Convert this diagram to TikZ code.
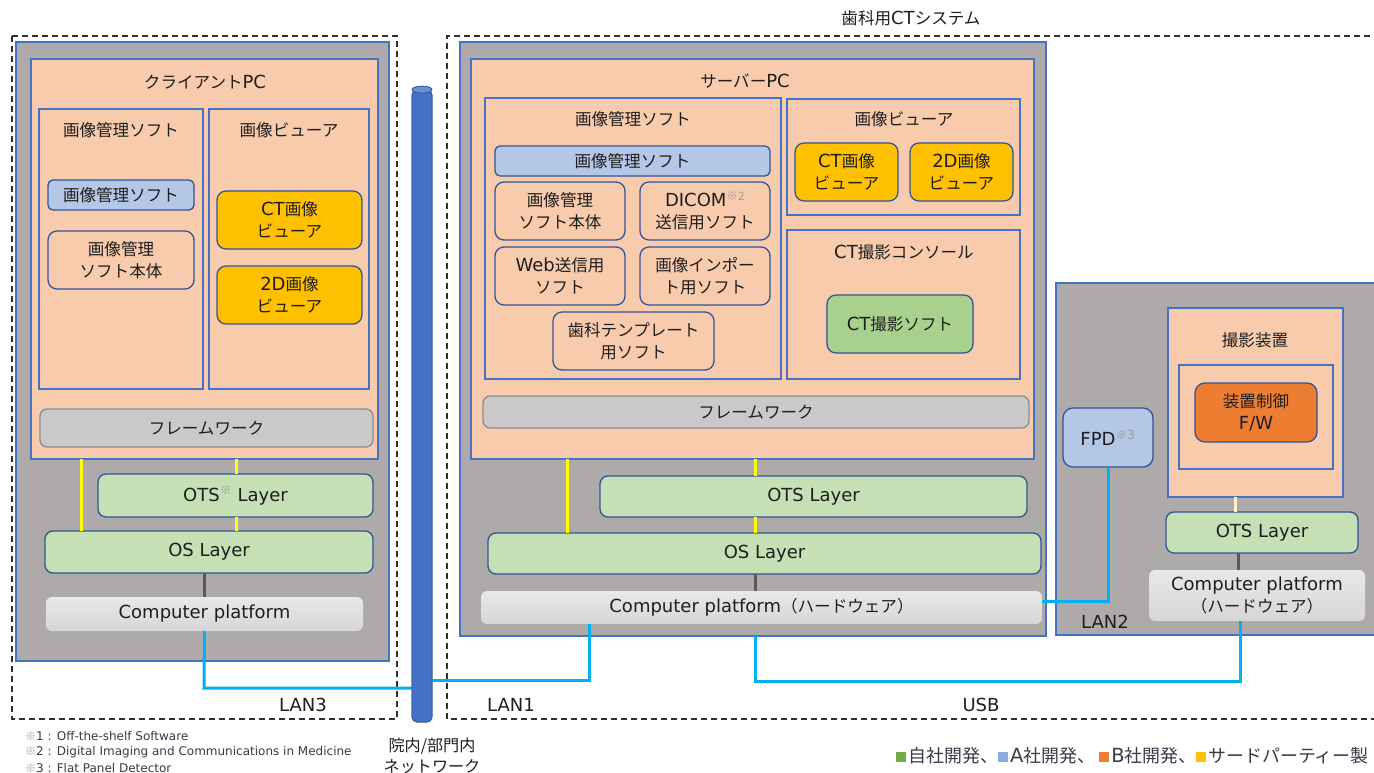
\documentclass[tikz,border=0pt]{standalone}
\usepackage{fontspec}
\setmainfont{DejaVu Sans}
\newfontfamily\jp{Noto Sans CJK JP}[Scale=0.92]
\usetikzlibrary{calc}
\definecolor{txt}{HTML}{1E1E1E}
\definecolor{kgray}{HTML}{9A9A9A}
\definecolor{outg}{HTML}{AEAAAA}
\definecolor{bord}{HTML}{4472C4}
\definecolor{bordd}{HTML}{2F5597}
\definecolor{peach}{HTML}{F8CBAD}
\definecolor{lblue}{HTML}{B4C7E7}
\definecolor{amber}{HTML}{FFC000}
\definecolor{lgreen}{HTML}{C5E0B4}
\definecolor{mgreen}{HTML}{A9D18E}
\definecolor{fwgray}{HTML}{C9C9C9}
\definecolor{fwbord}{HTML}{8C8C8C}
\definecolor{orng}{HTML}{ED7D31}
\definecolor{cyanl}{HTML}{00B0F0}
\definecolor{yell}{HTML}{FFFF00}
\definecolor{pale}{HTML}{FFF2CC}
\definecolor{dgray}{HTML}{595959}
\definecolor{pipeb}{HTML}{4472C4}
\definecolor{pipet}{HTML}{6A8FD6}
\definecolor{pipedk}{HTML}{2F5597}
\definecolor{dash1}{HTML}{303030}
\definecolor{fntxt}{HTML}{3A3A48}
\definecolor{lg1}{HTML}{70AD47}
\definecolor{lg2}{HTML}{8FAADC}
\definecolor{lg3}{HTML}{ED7D31}
\definecolor{lg4}{HTML}{FFC000}
\newcommand\kome[1]{\textsuperscript{\textcolor{kgray}{{\jp ※}#1}}}
\newcommand\sqr[1]{\textcolor{#1}{\rule[1pt]{10pt}{10pt}}\hspace{2pt}}
\newcommand\R[7][]{\node[bx,#1,minimum width={(#4)-(#2)},minimum height={(#5)-(#3)}] (#6) at ({((#2)+(#4))/2},{((#3)+(#5))/2}) {#7};}
\tikzset{
  bx/.style={inner sep=0pt,outer sep=0pt,align=center,text=txt,line width=1.3pt},
  jf/.style={font={\jp\fontsize{18}{22}\selectfont}},
  lf/.style={font={\fontsize{18}{22}\selectfont}},
  jt/.style={jf,text=txt,inner sep=0pt,align=center},
  lt/.style={lf,text=txt,inner sep=0pt,align=center},
  outerbox/.style={fill=outg,draw=bord},
  peachbox/.style={fill=peach,draw=bord},
  softbox/.style={jf,fill=peach,draw=bordd,rounded corners=9pt},
  bluebox/.style={jf,fill=lblue,draw=bordd,rounded corners=5pt},
  ybox/.style={jf,fill=amber,draw=bordd,rounded corners=9pt},
  grbox/.style={lf,fill=lgreen,draw=bordd,rounded corners=8pt},
  fwbox/.style={jf,fill=fwgray,draw=fwbord,rounded corners=7pt},
  plbox/.style={lf,top color=gray!18,bottom color=gray!32,draw=none,rounded corners=6pt},
  ctbox/.style={jf,fill=mgreen,draw=bordd,rounded corners=9pt},
  obox/.style={jf,fill=orng,draw=bordd,rounded corners=10pt},
  fpdbox/.style={lf,fill=lblue,draw=bordd,rounded corners=10pt},
  dsh/.style={draw=dash1,line width=1.6pt,dash pattern=on 6pt off 4pt},
  cy/.style={draw=cyanl,line width=3pt},
  yl/.style={draw=yell,line width=3pt},
  gl/.style={draw=dgray,line width=3pt},
  pl/.style={draw=pale,line width=3pt},
  fn/.style={font={\fontsize{12}{15}\selectfont},text=fntxt,inner sep=0pt,anchor=west},
}
\begin{document}
\begin{tikzpicture}[x=1pt,y=-1pt]
\useasboundingbox (0,0) rectangle (1374,773);
\fill[white] (0,0) rectangle (1374,773);

% dashed system boundaries
\draw[dsh] (12,36) rectangle (397,719);
\draw[dsh] (1390,36) -- (447,36) -- (447,719) -- (1390,719);
\node[jt] (systitle) at (911,18) {歯科用\textrm{CT}システム};

% ---------- client PC ----------
\R[outerbox]{16}{42}{389}{661}{cli}{}
\R[peachbox]{31}{59}{378}{459}{cpc}{}
\node[jt] (cpct) at (205,82) {クライアント\textrm{PC}};
\R[peachbox]{39}{109}{203}{389}{cims}{}
\node[jt] (cimst) at (121,130) {画像管理ソフト};
\R[peachbox]{209}{109}{369}{389}{cviw}{}
\node[jt] (cviwt) at (289,130) {画像ビューア};
\R[bluebox]{48}{180}{194}{210}{cimb}{画像管理ソフト}
\R[softbox]{48}{231}{194}{289}{cmain}{画像管理\\ソフト本体}
\R[ybox]{217}{191}{362}{249}{cct}{\textrm{CT}画像\\ビューア}
\R[ybox]{217}{266}{362}{324}{c2d}{\textrm{2D}画像\\ビューア}
\R[fwbox]{40}{409}{373}{447}{cfw}{フレームワーク}
\R[grbox]{98}{474}{373}{517}{cots}{OTS\kome{} Layer}
\R[grbox]{45}{531}{373}{573}{cos}{OS Layer}
\R[plbox]{46}{597}{363}{631}{cpl}{Computer platform}

% ---------- server PC ----------
\R[outerbox]{460}{42}{1046}{636}{srv}{}
\R[peachbox]{471}{59}{1034}{459}{spc}{}
\node[jt] (spct) at (745,81) {サーバー\textrm{PC}};
\R[peachbox]{485}{98}{781}{379}{sims}{}
\node[jt] (simst) at (633,119) {画像管理ソフト};
\R[bluebox]{495}{146}{770}{176}{simb}{画像管理ソフト}
\R[softbox]{495}{182}{625}{240}{smain}{画像管理\\ソフト本体}
\R[softbox]{640}{182}{770}{240}{sdicom}{\textrm{DICOM}\kome{2}\\送信用ソフト}
\R[softbox]{495}{247}{625}{305}{sweb}{\textrm{Web}送信用\\ソフト}
\R[softbox]{640}{247}{770}{305}{simp}{画像インポー\\ト用ソフト}
\R[softbox]{553}{312}{714}{370}{stmp}{歯科テンプレート\\用ソフト}
\R[peachbox]{787}{99}{1020}{215}{sviw}{}
\node[jt] (sviwt) at (904,119) {画像ビューア};
\R[ybox]{795}{143}{898}{201}{sct}{\textrm{CT}画像\\ビューア}
\R[ybox]{910}{143}{1013}{201}{s2d}{\textrm{2D}画像\\ビューア}
\R[peachbox]{787}{230}{1020}{379}{scon}{}
\node[jt] (scont) at (904,252) {\textrm{CT}撮影コンソール};
\R[ctbox]{827}{295}{973}{353}{sctsoft}{\textrm{CT}撮影ソフト}
\R[fwbox]{483}{396}{1029}{428}{sfw}{フレームワーク}
\R[grbox]{600}{476}{1027}{517}{sots}{OTS Layer}
\R[grbox]{488}{533}{1041}{574}{sos}{OS Layer}
\R[plbox]{481}{591}{1042}{624}{spl}{Computer platform{\jp （ハードウェア）}}

% ---------- imaging device ----------
\R[outerbox]{1056}{283}{1390}{635}{dev}{}
\R[fpdbox]{1063}{408}{1153}{467}{fpd}{FPD\kome{3}}
\R[peachbox]{1168}{308}{1343}{497}{cam}{}
\node[jt] (camt) at (1255,340) {撮影装置};
\R[peachbox]{1179}{365}{1333}{469}{camin}{}
\R[obox]{1195}{383}{1317}{442}{fw}{装置制御\\\textrm{F/W}}
\R[grbox]{1166}{512}{1358}{553}{rots}{OTS Layer}
\R[plbox]{1149}{570}{1365}{621}{rpl}{Computer platform\\{\jp （ハードウェア）}}
\node[lt] (lan2) at (1105,622) {LAN2};

% ---------- internal links ----------
\draw[yl] (cpc.south -| 81,0) -- (cos.north -| 81,0);
\draw[yl] (cpc.south -| 236,0) -- (cots.north -| 236,0);
\draw[yl] (cots.south -| 236,0) -- (cos.north -| 236,0);
\draw[gl] (cos.south -| cpl.north) -- (cpl.north);
\draw[yl] (spc.south -| 567,0) -- (sos.north -| 567,0);
\draw[yl] (spc.south -| 755,0) -- (sots.north -| 755,0);
\draw[yl] (sots.south -| 755,0) -- (sos.north -| 755,0);
\draw[gl] (sos.south -| 755,0) -- (spl.north -| 755,0);
\draw[pl] (cam.south -| 1235,0) -- (rots.north -| 1235,0);
\draw[gl] (rots.south -| 1238,0) -- (rpl.north -| 1238,0);

% ---------- network links ----------
\coordinate (l3) at (204,688);
\coordinate (l1) at (589,680);
\coordinate (u1) at (755,681);
\coordinate (u2) at (1240,681);
\coordinate (f1) at (1108,601);
\node[draw=pipedk,fill=pipeb,line width=0.8pt,inner sep=0pt,minimum width=20,minimum height=632,rounded corners=5pt] (pipe) at (422,406) {};
\draw[cy] (cpl.south) -- (l3) -- (l3 -| pipe.center);
\draw[cy] (l1 -| pipe.center) -- (l1) -- (l1 |- spl.south);
\draw[cy] (srv.south -| u1) -- (u1) -- (u2) -- (u2 |- rpl.south);
\draw[cy] (fpd.south) -- (f1) -- (f1 -| spl.east);
% network pipe (drawn over the links)
\node[draw=pipedk,fill=pipeb,line width=0.8pt,inner sep=0pt,minimum width=20,minimum height=632,rounded corners=5pt] (pipe2) at (422,406) {};
\filldraw[fill=pipet,draw=pipedk,line width=0.8pt] (pipe2.north) ellipse [x radius=10, y radius=3.5];
\node[jt,font={\jp\fontsize{17.5}{21}\selectfont}] (netl) at (432,756) {院内/部門内\\ネットワーク};

\node[lt] (lan3) at (303,705) {LAN3};
\node[lt] (lan1) at (511,705) {LAN1};
\node[lt] (usb) at (981,705) {USB};

% ---------- footnotes & legend ----------
\node[fn] (fn1) at (25,736) {\textcolor{kgray}{\jp ※}1 : Off-the-shelf Software};
\node[fn] (fn2) at (25,752) {\textcolor{kgray}{\jp ※}2 : Digital Imaging and Communications in Medicine};
\node[fn] (fn3) at (25,768) {\textcolor{kgray}{\jp ※}3 : Flat Panel Detector};
\node[jt,anchor=east,text=fntxt,font={\jp\fontsize{19.5}{22}\selectfont}] (legend) at (1369,756) {\sqr{lg1}自社開発、\sqr{lg2}\textrm{A}社開発、 \sqr{lg3}\textrm{B}社開発、\sqr{lg4}サードパーティー製};
\end{tikzpicture}
\end{document}
